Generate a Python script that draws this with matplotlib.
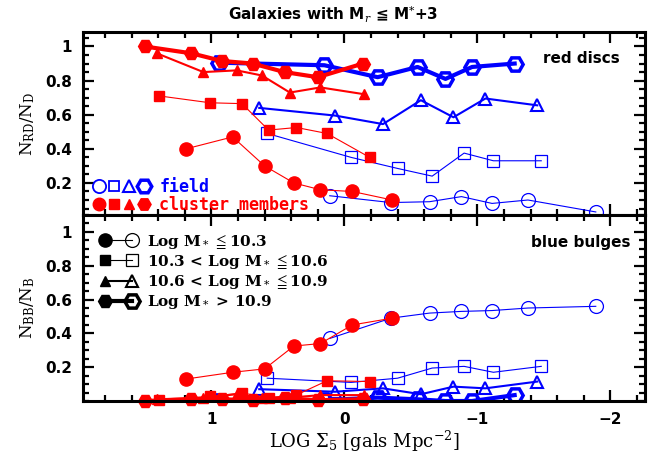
import matplotlib
matplotlib.use('Agg')
import matplotlib.pyplot as plt
from matplotlib.lines import Line2D
from matplotlib.legend_handler import HandlerTuple, HandlerBase
from matplotlib.ticker import MultipleLocator, FixedLocator

plt.rcParams['mathtext.fontset'] = 'dejavuserif'

# ---------------- data ----------------
# cluster members (red, filled)
c1_x = [1.19, 0.84, 0.60, 0.38, 0.18, -0.06, -0.36]
c1_rd = [0.40, 0.47, 0.30, 0.20, 0.16, 0.15, 0.10]
c1_bb = [0.13, 0.17, 0.19, 0.325, 0.34, 0.45, 0.49]

c2_x = [1.39, 1.01, 0.77, 0.57, 0.36, 0.13, -0.19]
c2_rd = [0.71, 0.67, 0.665, 0.51, 0.525, 0.49, 0.35]
c2_bb = [0.005, 0.027, 0.048, 0.02, 0.036, 0.12, 0.115]

c3_x = [1.41, 1.06, 0.81, 0.62, 0.41, 0.18, -0.15]
c3_rd = [0.96, 0.85, 0.86, 0.83, 0.73, 0.76, 0.72]
c3_bb = [0.01, 0.02, 0.04, 0.02, 0.02, 0.035, 0.035]

c4_x = [1.50, 1.15, 0.92, 0.69, 0.45, 0.20, -0.14]
c4_rd = [1.00, 0.96, 0.915, 0.90, 0.85, 0.82, 0.90]
c4_bb = [0.0, 0.01, 0.01, 0.005, 0.015, 0.005, 0.01]

# field (blue, open)
f1_x = [0.11, -0.35, -0.64, -0.88, -1.11, -1.38, -1.89]
f1_rd = [0.125, 0.085, 0.09, 0.12, 0.08, 0.10, 0.03]
f1_bb = [0.37, 0.49, 0.52, 0.53, 0.535, 0.55, 0.56]

f2_x = [0.58, -0.05, -0.40, -0.66, -0.90, -1.12, -1.48]
f2_rd = [0.49, 0.35, 0.285, 0.24, 0.375, 0.33, 0.33]
f2_bb = [0.135, 0.11, 0.135, 0.195, 0.205, 0.17, 0.205]

f3_x = [0.64, 0.07, -0.29, -0.575, -0.82, -1.06, -1.45]
f3_rd = [0.64, 0.595, 0.545, 0.685, 0.585, 0.695, 0.655]
f3_bb = [0.07, 0.055, 0.075, 0.04, 0.085, 0.075, 0.115]

f4_x = [0.94, 0.15, -0.25, -0.55, -0.76, -0.96, -1.28]
f4_rd = [0.905, 0.89, 0.82, 0.88, 0.81, 0.88, 0.90]
f4_bb = [0.0, 0.005, 0.02, 0.01, 0.0, 0.0, 0.035]

mass_labels = [r'Log M$_*\,\leqq$10.3',
               r'10.3 < Log M$_*\,\leqq$10.6',
               r'10.6 < Log M$_*\,\leqq$10.9',
               r'Log M$_*$ > 10.9']

RED = '#ff0000'
BLUE = '#0000ff'

# styles per mass bin: marker, size (filled), size(open), line width, open edge width
styles = [
    dict(m='o', msf=9.5, mso=10.0, lw=0.8, mew=0.9),
    dict(m='s', msf=7.0, mso=8.0, lw=0.8, mew=0.9),
    dict(m='^', msf=7.5, mso=9.0, lw=1.5, mew=1.5),
    dict(m='H', msf=10.0, mso=11.0, lw=3.0, mew=2.5),
]

field = [(f1_x, f1_rd, f1_bb), (f2_x, f2_rd, f2_bb), (f3_x, f3_rd, f3_bb), (f4_x, f4_rd, f4_bb)]
clust = [(c1_x, c1_rd, c1_bb), (c2_x, c2_rd, c2_bb), (c3_x, c3_rd, c3_bb), (c4_x, c4_rd, c4_bb)]

fig = plt.figure(figsize=(6.64, 4.57), dpi=100)
ax1 = fig.add_axes([0.125, 0.5295, 0.8464, 0.4005])
ax2 = fig.add_axes([0.125, 0.1225, 0.8464, 0.407])

for k, (ax, idx) in enumerate([(ax1, 1), (ax2, 2)]):
    for st, d in zip(styles, field):
        ax.plot(d[0], d[idx], color=BLUE, lw=st['lw'], marker=st['m'], ms=st['mso'],
                mfc='none', mec=BLUE, mew=st['mew'], zorder=2)
    for st, d in zip(styles, clust):
        ax.plot(d[0], d[idx], color=RED, lw=st['lw'], marker=st['m'], ms=st['msf'],
                mfc=RED, mec=RED, zorder=3, clip_on=(idx == 1))

for ax in (ax1, ax2):
    ax.set_xlim(1.965, -2.26)
    ax.xaxis.set_major_locator(FixedLocator([1, 0, -1, -2]))
    ax.xaxis.set_minor_locator(MultipleLocator(0.2))
    ax.yaxis.set_major_locator(FixedLocator([0.2, 0.4, 0.6, 0.8, 1.0]))
    ax.yaxis.set_minor_locator(MultipleLocator(0.05))
    ax.tick_params(which='both', direction='in', top=True, right=True, width=1.6)
    ax.tick_params(which='major', length=8, pad=8)
    ax.tick_params(which='minor', length=4.5)
    for s in ax.spines.values():
        s.set_linewidth(2.2)
        s.set_zorder(5)
    for lab in ax.get_yticklabels() + ax.get_xticklabels():
        lab.set_fontweight('bold')
        lab.set_fontsize(11)
    ax.yaxis.set_major_formatter(plt.FuncFormatter(lambda v, p: '1' if abs(v - 1) < 1e-6 else f'{v:.1f}'))
    ax.xaxis.set_major_formatter(plt.FuncFormatter(lambda v, p: f'{v:.0f}'.replace('-', '\u2212')))

ax1.set_ylim(0.012, 1.085)
ax2.set_ylim(0.0, 1.10)
ax1.tick_params(labelbottom=False)

ax1.set_ylabel(r'N$_{\mathrm{RD}}$/N$_{\mathrm{D}}$', fontsize=12, family='DejaVu Serif', labelpad=6)
ax2.set_ylabel(r'N$_{\mathrm{BB}}$/N$_{\mathrm{B}}$', fontsize=12, family='DejaVu Serif', labelpad=6)
ax2.set_xlabel(r'LOG $\Sigma_5$ [gals Mpc$^{-2}$]', fontsize=13, family='DejaVu Serif', labelpad=1)

fig.text(333 / 664, 1 - 15 / 457, r'Galaxies with M$_r$ ≦ M$^{*}$+3', ha='center', va='center',
         fontsize=11, fontweight='bold', family=['DejaVu Sans'])

ax1.text(0.955, 0.855, 'red discs', transform=ax1.transAxes, ha='right', va='center',
         fontsize=11, fontweight='bold')
ax2.text(0.975, 0.85, 'blue bulges', transform=ax2.transAxes, ha='right', va='center',
         fontsize=11, fontweight='bold')

# top legend: field / cluster members
open_h = tuple(Line2D([], [], ls='none', marker=st['m'], ms=st['mso'] * 0.95, mfc='none', mec=BLUE,
                      mew=max(st['mew'], 1.3)) for st in styles)
fill_h = tuple(Line2D([], [], ls='none', marker=st['m'], ms=st['msf'] * 0.95, mfc=RED, mec=RED)
               for st in styles)
leg1 = ax1.legend([open_h, fill_h], ['field', 'cluster members'],
                  handler_map={tuple: HandlerTuple(ndivide=None, pad=0.0)},
                  loc='lower left', bbox_to_anchor=(0.01, -0.01), frameon=False, numpoints=1,
                  handlelength=3.6, handletextpad=0.45, labelspacing=0.0, borderpad=0.2,
                  borderaxespad=0.0, prop=dict(family='DejaVu Sans Mono', size=12, weight='bold'))
leg1.get_texts()[0].set_color(BLUE)
leg1.get_texts()[1].set_color(RED)


class FilledOpenHandler(HandlerBase):
    def create_artists(self, legend, orig_handle, xdescent, ydescent, width, height,
                       fontsize, trans):
        y = height / 2.0 - ydescent
        x0 = -xdescent
        x1 = width - xdescent
        st = orig_handle
        ln = Line2D([x0, x1], [y, y], color='k', lw=st['lw'])
        m1 = Line2D([x0], [y], ls='none', marker=st['m'], ms=st['msf'], mfc='k', mec='k')
        m2 = Line2D([x1], [y], ls='none', marker=st['m'], ms=st['mso'], mfc='none', mec='k',
                    mew=st['mew'])
        arts = [ln, m1, m2]
        for a in arts:
            a.set_transform(trans)
        return arts


class StyleHandle(dict):
    pass


handles2 = [StyleHandle(st) for st in styles]
leg2 = ax2.legend(handles2, mass_labels, handler_map={StyleHandle: FilledOpenHandler()},
                  loc='upper left', bbox_to_anchor=(0.039, 0.905), frameon=False,
                  handlelength=1.75, handletextpad=1.0, labelspacing=0.14, borderpad=0.0,
                  borderaxespad=0.0, prop=dict(family=['DejaVu Serif', 'DejaVu Sans'], size=11,
                                               weight='bold'))

fig.savefig('out.png', dpi=100)
